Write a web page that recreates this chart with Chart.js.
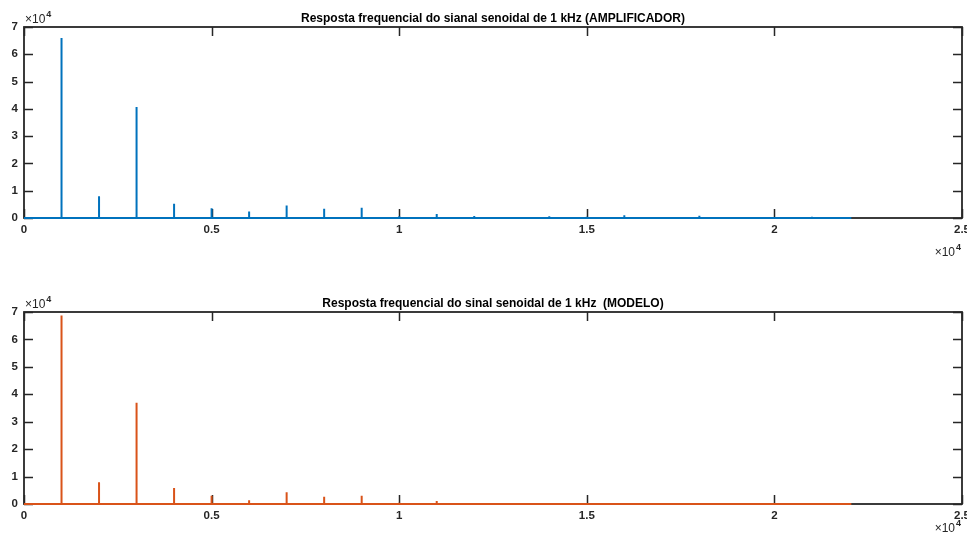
<!DOCTYPE html>
<html>
<head>
<meta charset="utf-8">
<script src="https://cdn.jsdelivr.net/npm/chart.js@4.4.1/dist/chart.umd.min.js"></script>
<style>
  html, body { margin: 0; padding: 0; background: #ffffff; }
  #wrap { position: relative; width: 967px; height: 541px; }
  .box { position: absolute; left: 0; width: 967px; }
  #b1 { top: 0; height: 270px; }
  #b2 { top: 270px; height: 271px; }
</style>
</head>
<body>
<div id="wrap">
  <div class="box" id="b1"><canvas id="c1"></canvas></div>
  <div class="box" id="b2"><canvas id="c2"></canvas></div>
</div>
<script>
// ---- data ----
const harmonicFreqsHz = [1000, 2000, 3000, 4000, 5000, 6000, 7000, 8000, 9000, 10000, 11000,
                         12000, 13000, 14000, 15000, 16000, 17000, 18000, 19000, 20000, 21000, 22000];
const amplificadorAmp = [66000, 8000, 40700, 5200, 3600, 2400, 4600, 3400, 3800, 600, 1500,
                         700, 300, 600, 500, 1000, 400, 800, 200, 300, 500, 100];
const modeloAmp       = [68700, 7900, 36900, 5800, 3000, 1400, 4300, 2600, 3000, 500, 1100,
                         0, 0, 0, 0, 0, 0, 0, 0, 0, 0, 0];
const nyquistHz = 22050;
const xTickValues = [0, 5000, 10000, 15000, 20000, 25000];
const xTickLabels = ['0', '0.5', '1', '1.5', '2', '2.5'];
const yTickValues = [0, 10000, 20000, 30000, 40000, 50000, 60000, 70000];
const yTickLabels = ['0', '1', '2', '3', '4', '5', '6', '7'];
const titleAmplificador = 'Resposta frequencial do sianal senoidal de 1 kHz (AMPLIFICADOR)';
const titleModelo = 'Resposta frequencial do sinal senoidal de 1 kHz  (MODELO)';

function spikeSeries(freqs, amps) {
  const pts = [{x: 0, y: 0}];
  freqs.forEach((f, i) => {
    pts.push({x: f, y: 0});
    pts.push({x: f, y: amps[i]});
    pts.push({x: f, y: 0});
  });
  pts.push({x: nyquistHz, y: 0});
  return pts;
}

const FONT = '"Liberation Sans", Arial, sans-serif';
const AXIS_COLOR = '#262626';

const matlabAxes = {
  id: 'matlabAxes',
  beforeDatasetsDraw(chart) {
    const {ctx, chartArea: a, scales} = chart;
    const tl = 9;
    ctx.save();
    ctx.strokeStyle = AXIS_COLOR;
    ctx.lineWidth = 1.8;
    ctx.strokeRect(a.left, a.top, a.right - a.left, a.bottom - a.top);
    ctx.lineWidth = 1.5;
    ctx.beginPath();
    scales.x.ticks.forEach(t => {
      const px = Math.round(scales.x.getPixelForValue(t.value)) + 0.5;
      ctx.moveTo(px, a.bottom); ctx.lineTo(px, a.bottom - tl);
      ctx.moveTo(px, a.top); ctx.lineTo(px, a.top + tl);
    });
    scales.y.ticks.forEach(t => {
      const py = Math.round(scales.y.getPixelForValue(t.value)) + 0.5;
      ctx.moveTo(a.left, py); ctx.lineTo(a.left + tl, py);
      ctx.moveTo(a.right, py); ctx.lineTo(a.right - tl, py);
    });
    ctx.stroke();
    ctx.restore();
  },
  afterDraw(chart, args, opts) {
    const {ctx, chartArea: a} = chart;
    ctx.save();
    ctx.fillStyle = AXIS_COLOR;
    ctx.textBaseline = 'alphabetic';
    // y exponent (top-left)
    ctx.textAlign = 'left';
    ctx.font = '12px ' + FONT;
    ctx.fillText('\u00d710', a.left + 1, a.top - 4);
    let w = ctx.measureText('\u00d710').width;
    ctx.font = 'bold 9px ' + FONT;
    ctx.fillText('4', a.left + 1 + w + 1, a.top - 10);
    // x exponent (bottom-right)
    ctx.font = 'bold 9px ' + FONT;
    const w4 = ctx.measureText('4').width;
    const xr = a.right - 1;
    ctx.fillText('4', xr - w4, a.bottom + opts.expOffset - 6);
    ctx.font = '12px ' + FONT;
    ctx.textAlign = 'right';
    ctx.fillText('\u00d710', xr - w4 - 1, a.bottom + opts.expOffset);
    ctx.restore();
  }
};

function makeChart(canvasId, amps, color, title, titlePadTop, titlePadBottom, xAxisHeight, expOffset) {
  return new Chart(document.getElementById(canvasId), {
    type: 'line',
    data: {
      datasets: [{
        data: spikeSeries(harmonicFreqsHz, amps),
        borderColor: color,
        borderWidth: 2,
        pointRadius: 0,
        tension: 0,
        fill: false,
        clip: false
      }]
    },
    options: {
      responsive: true,
      maintainAspectRatio: false,
      animation: false,
      events: [],
      layout: { padding: { left: 0, right: 5, top: 0, bottom: 0 } },
      plugins: {
        legend: { display: false },
        tooltip: { enabled: false },
        title: {
          display: true,
          text: title,
          color: '#000000',
          fullSize: false,
          font: { family: FONT, size: 12, weight: 'bold' },
          padding: { top: titlePadTop, bottom: titlePadBottom }
        },
        matlabAxes: { expOffset: expOffset }
      },
      scales: {
        x: {
          type: 'linear',
          min: 0, max: 25000,
          grid: { display: false, drawTicks: false },
          border: { display: false },
          afterBuildTicks: s => { s.ticks = xTickValues.map(v => ({value: v})); },
          afterFit: s => { s.height = xAxisHeight; s.paddingLeft = 0; s.paddingRight = 0; },
          ticks: {
            autoSkip: false, maxRotation: 0,
            padding: 5,
            color: AXIS_COLOR,
            font: { family: FONT, size: 11.5, weight: 'bold' },
            callback: (v) => xTickLabels[xTickValues.indexOf(v)]
          }
        },
        y: {
          type: 'linear',
          min: 0, max: 70000,
          grid: { display: false, drawTicks: false },
          border: { display: false },
          afterBuildTicks: s => { s.ticks = yTickValues.map(v => ({value: v})); },
          afterFit: s => { s.width = 24; s.paddingTop = 0; s.paddingBottom = 0; },
          ticks: {
            autoSkip: false,
            padding: 6,
            color: AXIS_COLOR,
            font: { family: FONT, size: 11.5, weight: 'bold' },
            callback: (v) => yTickLabels[yTickValues.indexOf(v)]
          }
        }
      }
    },
    plugins: [matlabAxes]
  });
}

makeChart('c1', amplificadorAmp, '#0072BD', titleAmplificador, 11, 1.6, 52, 38);
makeChart('c2', modeloAmp, '#D95319', titleModelo, 26, 1.6, 37, 28);
</script>
</body>
</html>
